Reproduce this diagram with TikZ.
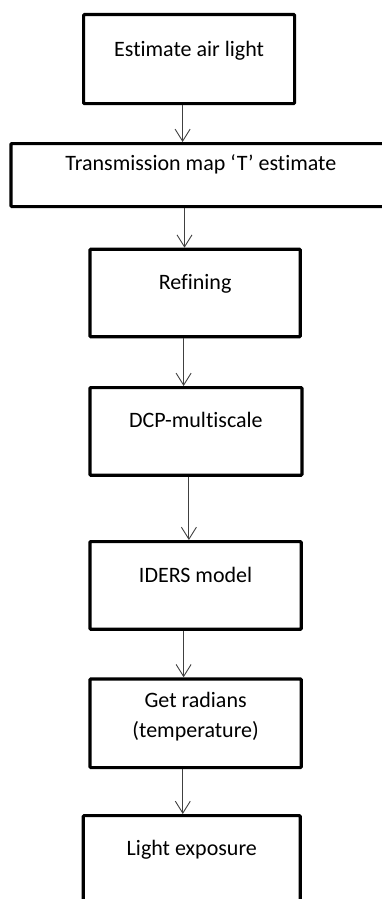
\documentclass[tikz,border=0pt]{standalone}
\usepackage{fontspec}
\setmainfont{Carlito}[Ligatures={NoCommon}]
\usetikzlibrary{arrows.meta}

\tikzset{
	stepbox/.style={draw, line width=3.2pt, rounded corners=1pt, anchor=north west,
		inner xsep=0pt, inner ysep=0pt, align=center,
		font=\fontsize{22pt}{30pt}\selectfont},
	flow/.style={draw=black!75, line width=0.9pt, -{Straight Barb[length=12pt,width=15pt]}}
}

\begin{document}
\begin{tikzpicture}[x=1pt, y=-1pt]
	\useasboundingbox (0,0) rectangle (382,899);
	% Kaesten
	\node[stepbox, minimum width=211pt, text height=41.5pt, text depth=47.5pt] (est) at (82,13) {Estimate air light};
	\node[stepbox, minimum width=380pt, text height=27pt, text depth=36pt] (trans) at (9.3,142) {Transmission map ‘T’ estimate};
	\node[stepbox, minimum width=210.4pt, text height=40.5pt, text depth=47pt] (refine) at (88.3,247.7) {Refining};
	\node[stepbox, minimum width=212pt, text height=40pt, text depth=47.7pt] (dcp) at (88.3,386) {DCP-multiscale};
	\node[stepbox, minimum width=211.4pt, text height=40.5pt, text depth=47.2pt] (iders) at (88.3,540) {IDERS model};
	\node[stepbox, minimum width=211.4pt, text height=59pt, text depth=29.7pt] (radians) at (88.3,677.3) {Get radians\\(temperature)};
	\node[stepbox, minimum width=217pt, text height=40pt, text depth=60pt] (expo) at (81.7,814) {Light exposure};
	% Pfeile
	\draw[flow] ([xshift=-6.5pt]est.south) -- ([xshift=-6.5pt]est.south |- trans.north);
	\draw[flow] ([xshift=-16.4pt]trans.south) -- ([xshift=-16.4pt]trans.south |- refine.north);
	\draw[flow] ([xshift=-11.5pt]refine.south) -- ([xshift=-11.5pt]refine.south |- dcp.north);
	\draw[flow] ([xshift=-7pt]dcp.south) -- ([xshift=-7pt]dcp.south |- iders.north);
	\draw[flow] ([xshift=-12pt]iders.south) -- ([xshift=-12pt]iders.south |- radians.north);
	\draw[flow] ([xshift=-12.8pt]radians.south) -- ([xshift=-12.8pt]radians.south |- expo.north);
\end{tikzpicture}
\end{document}
